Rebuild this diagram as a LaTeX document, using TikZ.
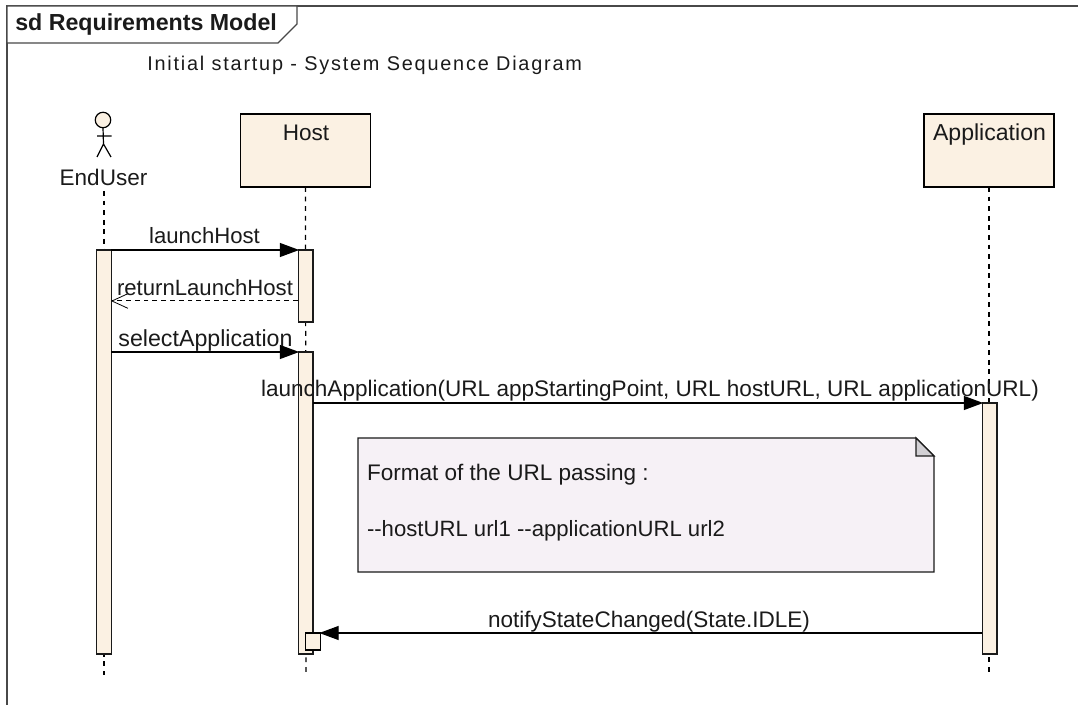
\documentclass[tikz,border=0pt]{standalone}
\usepackage{fontspec}
\setmainfont{Liberation Sans}
\newfontfamily\titlefont[LetterSpace=9]{Liberation Sans}
\usetikzlibrary{arrows.meta}
\definecolor{boxfill}{HTML}{FBF1E3}
\definecolor{notefill}{HTML}{F6F1F6}
\definecolor{foldfill}{HTML}{D2D0D4}
\definecolor{ink}{HTML}{1A1A1A}
\newcommand{\fsz}[1]{\fontsize{#1pt}{18pt}\selectfont}
\tikzset{
  x=0.75pt,y=-0.75pt,
  txt/.style={font=\fsz{16.9},text=ink,inner sep=0pt,outer sep=0pt},
  objbox/.style={draw=black,fill=boxfill,line width=0.85pt,minimum width=97.5pt,minimum height=54.75pt,inner sep=0pt,outer sep=0pt},
  actbox/.style={draw=ink,fill=boxfill,line width=1.1pt,minimum width=10.9pt,inner sep=0pt,outer sep=0pt},
  lifeline/.style={draw=black,line width=0.9pt,dash pattern=on 3.6pt off 3.6pt},
  msg/.style={draw=black,line width=0.9pt,shorten >=-0.7pt,-{Triangle[length=14.5pt,width=10.5pt,black]}},
  ret/.style={draw=black,line width=0.75pt,dash pattern=on 3.6pt off 3pt,-{Straight Barb[length=12pt,width=11pt,black,line width=0.6pt]}},
  frameline/.style={draw=ink!80,line width=0.9pt}
}
\begin{document}
\begin{tikzpicture}
\useasboundingbox (0,0) rectangle (1078,705);
% frame
\draw[frameline] (7,705) -- (7,6) -- (1078,6);
\draw[frameline,fill=white] (7,6) -- (297,6) -- (297,24) -- (278,43) -- (7,43) -- cycle;
\node[anchor=base west,inner sep=0pt,text=ink,font=\fontsize{17.4pt}{19pt}\selectfont\bfseries] (framelabel) at (15,31) {sd Requirements Model};
\node[anchor=base west,inner sep=0pt,text=ink,font=\fontsize{14.9pt}{17pt}\selectfont\titlefont] (title) at (147,71) {Initial startup - System Sequence Diagram};
% lifeline heads
\node[objbox] (host) at (305.5,150.5) {};
\node[objbox] (app) at (989,150.5) {};
\node[txt,anchor=base] (hostlabel) at (306,141) {Host};
\node[txt,anchor=base,font=\fsz{17.3}] (applabel) at (989.5,141) {Application};
% actor
\node[circle,draw=black,fill=boxfill,line width=0.9pt,minimum size=11.6pt,inner sep=0pt,outer sep=0pt] (head) at (103,120) {};
\coordinate (hip) at (103.5,144);
\coordinate (footl) at (97,157);
\coordinate (footr) at (111,157);
\coordinate (arml) at (97,136);
\coordinate (armr) at (111.5,136);
\draw[line width=0.9pt,draw=black] (head.south) -- (hip) (arml) -- (armr) (footl) -- (hip) -- (footr);
\node[txt,anchor=base] (enduser) at (103.5,186) {EndUser};
% lifeline ends
\coordinate (uend) at (104,675);
\coordinate (hend) at (306,675);
\coordinate (aend) at (989,675);
\coordinate (ustart) at (104,191);
\draw[lifeline] (ustart) -- (uend);
\draw[lifeline] (host.south) -- (hend);
\draw[lifeline] (app.south) -- (aend);
% activations
\node[actbox,minimum height=303pt] (ua) at (104,452) {};
\node[actbox,minimum height=54pt] (ha) at (305.5,286) {};
\node[actbox,minimum height=226.5pt] (hb) at (305.5,503) {};
\node[actbox,minimum height=188.25pt] (aa) at (989.5,528.5) {};
\node[actbox,minimum height=12.75pt,draw=black] (hs) at (313,641.5) {};
% messages
\coordinate (r1) at (298,301);
\coordinate (r2) at (111,301);
\coordinate (ls) at (111,352);
\coordinate (la) at (313,403);
\coordinate (ns) at (982,633);
\draw[msg] (ua.north east) -- (ha.north west);
\draw[ret] (r1) -- (r2);
\draw[msg] (ls) -- (hb.north west);
\draw[msg] (la) -- (aa.north west);
\draw[msg] (ns) -- (hs.north east);
% labels
\node[txt,anchor=base,font=\fsz{16.6}] (m1) at (204.5,244) {launchHost};
\node[txt,anchor=base,font=\fsz{16.6}] (m2) at (205,296) {returnLaunchHost};
\node[txt,anchor=base,font=\fsz{17.4}] (m3) at (205.5,347) {selectApplication};
\node[txt,anchor=base] (m4) at (650,397) {launchApplication(URL appStartingPoint, URL hostURL, URL applicationURL)};
\node[txt,anchor=base] (m5) at (649,627) {notifyStateChanged(State.IDLE)};
% note
\draw[line width=1.0pt,draw=ink,fill=notefill] (358,438) -- (916,438) -- (934,456) -- (934,572) -- (358,572) -- cycle;
\draw[line width=1.0pt,draw=ink,fill=foldfill] (916,438) -- (934,456) -- (916,456) -- cycle;
\node[txt,anchor=base west] (n1) at (367,481) {Format of the URL passing :};
\node[txt,anchor=base west,font=\fsz{16.6}] (n2) at (367,537) {-{}-hostURL url1 -{}-applicationURL url2};
\end{tikzpicture}
\end{document}
